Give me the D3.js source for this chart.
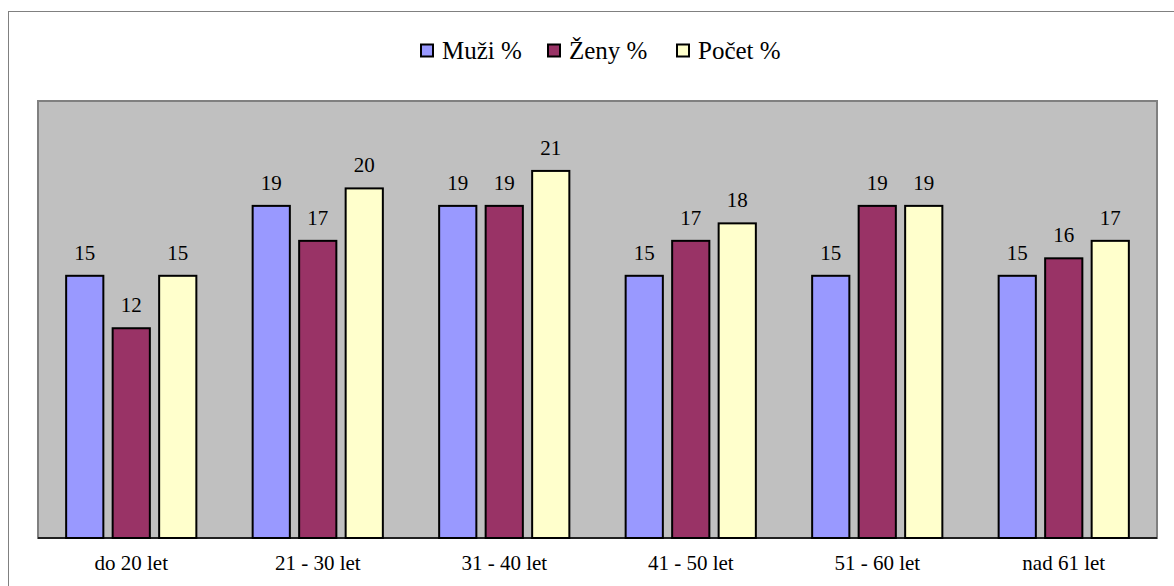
<!DOCTYPE html>
<html>
<head>
<meta charset="utf-8">
<script src="https://cdn.jsdelivr.net/npm/d3@7"></script>
<style>
  body { margin: 0; background: #fff; }
  svg { display: block; }
  svg text { font-family: "Liberation Serif", "Times New Roman", serif; fill: #000; }
</style>
</head>
<body>
<svg id="chart" width="1174" height="586"></svg>
<script>
// data
var categories = ['do 20 let', '21 - 30 let', '31 - 40 let', '41 - 50 let', '51 - 60 let', 'nad 61 let'];
var seriesNames = ['Muži %', 'Ženy %', 'Počet %'];
var muzi = [15, 19, 19, 15, 15, 15];
var zeny = [12, 17, 19, 17, 19, 16];
var pocet = [15, 20, 21, 18, 19, 17];
var colors = ['#9999FF', '#993366', '#FFFFCC'];

var values = [muzi, zeny, pocet];

var svg = d3.select('#chart');

// plot area bounds
var plotL = 38, plotR = 1157, plotT = 101, plotB = 538;

// outer chart border (runs off the page right and bottom)
svg.append('rect')
  .attr('x', 8.5).attr('y', 11.5)
  .attr('width', 1300).attr('height', 700)
  .attr('fill', '#fff')
  .attr('stroke', '#808080')
  .attr('stroke-width', 1);

// plot area
svg.append('rect')
  .attr('x', plotL).attr('y', plotT)
  .attr('width', plotR - plotL).attr('height', plotB - plotT)
  .attr('fill', '#C0C0C0')
  .attr('stroke', '#808080')
  .attr('stroke-width', 2);

var x = d3.scaleBand()
  .domain(categories)
  .range([plotL, plotR])
  .paddingInner(0.252)
  .paddingOuter(0.126);

var xs = d3.scaleBand()
  .domain(seriesNames)
  .range([0, x.bandwidth()])
  .paddingInner(0.2)
  .paddingOuter(0.1);

var y = d3.scaleLinear()
  .domain([0, 25])
  .range([plotB, plotT]);

var groups = svg.selectAll('.grp')
  .data(categories)
  .enter().append('g')
  .attr('class', 'grp')
  .attr('transform', function(d) { return 'translate(' + x(d) + ',0)'; });

groups.selectAll('rect')
  .data(function(d, i) {
    return seriesNames.map(function(s, j) { return {s: s, j: j, v: values[j][i]}; });
  })
  .enter().append('rect')
  .attr('x', function(d) { return xs(d.s); })
  .attr('y', function(d) { return y(d.v); })
  .attr('width', xs.bandwidth())
  .attr('height', function(d) { return plotB - y(d.v); })
  .attr('fill', function(d) { return colors[d.j]; })
  .attr('stroke', '#000')
  .attr('stroke-width', 2);

// value labels
groups.selectAll('text.val')
  .data(function(d, i) {
    return seriesNames.map(function(s, j) { return {s: s, v: values[j][i]}; });
  })
  .enter().append('text')
  .attr('class', 'val')
  .attr('x', function(d) { return xs(d.s) + xs.bandwidth() / 2; })
  .attr('y', function(d) { return y(d.v) - 16; })
  .attr('text-anchor', 'middle')
  .attr('font-size', 21)
  .text(function(d) { return d.v; });

// category axis
var xAxis = d3.axisBottom(x).tickSize(0).tickPadding(0);
var axisG = svg.append('g')
  .attr('transform', 'translate(0,' + plotB + ')')
  .call(xAxis);
axisG.attr('font-family', null);
axisG.select('.domain').attr('stroke', '#000').attr('stroke-width', 1.5)
  .attr('d', 'M' + plotL + ',0H' + plotR);
axisG.selectAll('text')
  .attr('font-size', 21)
  .attr('dy', null)
  .attr('y', 32);

// legend
var legendX = [421, 548, 677];
var legend = svg.append('g');
seriesNames.forEach(function(s, j) {
  legend.append('rect')
    .attr('x', legendX[j]).attr('y', 44.5)
    .attr('width', 12).attr('height', 12)
    .attr('fill', colors[j])
    .attr('stroke', '#000')
    .attr('stroke-width', 2);
  legend.append('text')
    .attr('x', legendX[j] + 21)
    .attr('y', 58.5)
    .attr('font-size', 25)
    .text(s);
});
</script>
</body>
</html>
